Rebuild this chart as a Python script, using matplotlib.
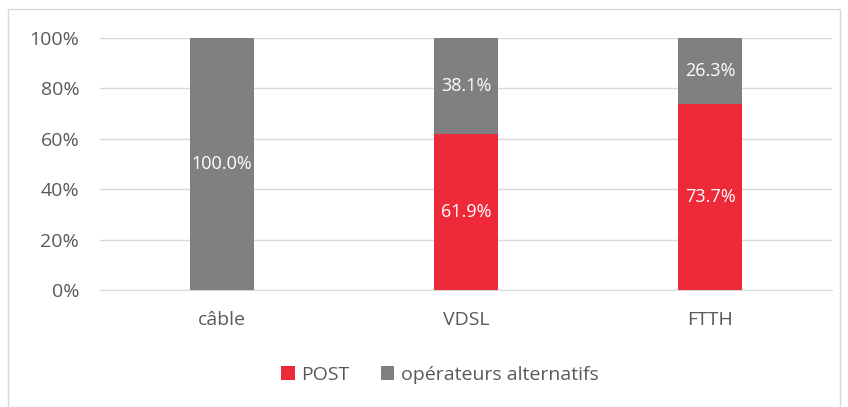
import numpy as np
import matplotlib.pyplot as plt
from matplotlib.patches import Rectangle
from matplotlib.ticker import PercentFormatter

# 数据
categories = ["câble", "VDSL", "FTTH"]
post = [0.0, 61.9, 73.7]
alternatifs = [100.0, 38.1, 26.3]
series_names = ["POST", "opérateurs alternatifs"]

RED = "#EE2A3A"
GRAY = "#808080"
TEXT = "#595959"

plt.rcParams['font.family'] = ['Open Sans', 'DejaVu Sans']

fig = plt.figure(figsize=(8.48, 4.07), dpi=100)
ax = fig.add_axes([100 / 848, 1 - 290 / 407, 732 / 848, 252 / 407])

# 图框
fig.patches.append(Rectangle((8 / 848, 0.0), 832 / 848, 1 - 9 / 407, transform=fig.transFigure,
                             fill=False, edgecolor="#d9d9d9", linewidth=1))

x = np.arange(len(categories))
width = 0.266
b1 = ax.bar(x, post, width, color=RED, label=series_names[0], zorder=3)
b2 = ax.bar(x, alternatifs, width, bottom=post, color=GRAY, label=series_names[1], zorder=3)

for i in range(len(categories)):
    if post[i] > 0:
        ax.text(x[i], post[i] / 2, f"{post[i]:.1f}%", ha="center", va="center",
                color="white", fontsize=13, zorder=4)
    if alternatifs[i] > 0:
        ax.text(x[i], post[i] + alternatifs[i] / 2, f"{alternatifs[i]:.1f}%", ha="center",
                va="center", color="white", fontsize=13, zorder=4)

ax.set_xlim(-0.5, 2.5)
ax.set_ylim(0, 100)
ax.set_yticks(np.arange(0, 101, 20))
ax.yaxis.set_major_formatter(PercentFormatter(decimals=0))
ax.set_xticks(x)
ax.set_xticklabels(categories)
ax.tick_params(axis="both", length=0, labelsize=14, colors=TEXT)
ax.tick_params(axis="y", pad=15)
ax.tick_params(axis="x", pad=15)
ax.grid(axis="y", color="#d9d9d9", linewidth=1, zorder=0)
for s in ["top", "right", "left"]:
    ax.spines[s].set_visible(False)
ax.spines["bottom"].set_color("#d9d9d9")

fig.legend(handles=[b1, b2], labels=series_names, loc="center", bbox_to_anchor=(440 / 848, 1 - 375 / 407),
           ncol=2, frameon=False, fontsize=14, labelcolor=TEXT, handlelength=0.7, handleheight=0.7,
           handletextpad=0.35, columnspacing=1.6)

plt.savefig("out.png", dpi=100)
plt.close()
